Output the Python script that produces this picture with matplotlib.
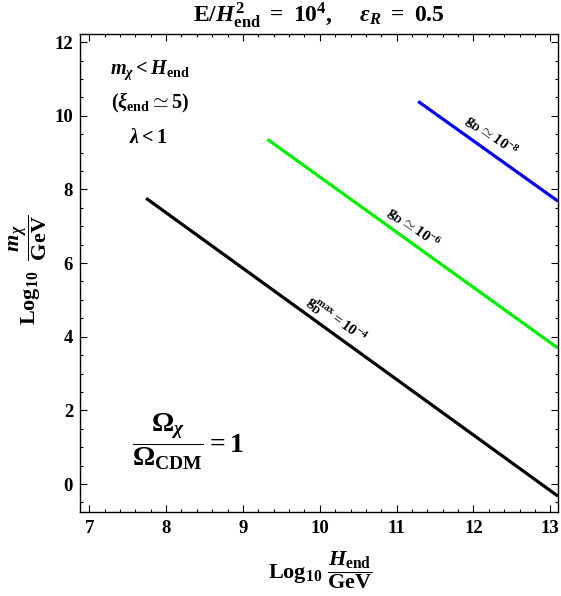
import matplotlib
matplotlib.use("Agg")
import matplotlib.pyplot as plt
from matplotlib.ticker import MultipleLocator

plt.rcParams['font.family'] = ['Liberation Serif', 'DejaVu Serif']
plt.rcParams['font.weight'] = 'bold'
plt.rcParams['mathtext.fontset'] = 'custom'
plt.rcParams['mathtext.rm'] = 'Liberation Serif:bold'
plt.rcParams['mathtext.it'] = 'Liberation Serif:bold:italic'
plt.rcParams['mathtext.bf'] = 'Liberation Serif:bold'
plt.rcParams['mathtext.sf'] = 'Liberation Serif:bold'

# data: line endpoints (log10 H_end/GeV, log10 m_chi/GeV)
black_x = [7.74, 13.1]
black_y = [7.76, -0.33]
green_x = [9.32, 13.1]
green_y = [9.36, 3.69]
blue_x = [11.28, 13.1]
blue_y = [10.39, 7.68]

xticks = [7, 8, 9, 10, 11, 12, 13]
yticks = [0, 2, 4, 6, 8, 10, 12]

fig = plt.figure(figsize=(5.61, 5.96), dpi=100)
ax = fig.add_axes([80/561, 1-512/596, 478/561, 478/596])

ax.plot(black_x, black_y, color='black', lw=2.3, solid_capstyle='butt')
ax.plot(green_x, green_y, color='#00ee00', lw=2.3, solid_capstyle='butt')
ax.plot(blue_x, blue_y, color='#0000ee', lw=2.3, solid_capstyle='butt')

ax.set_xlim(6.88, 13.1)
ax.set_ylim(-0.76, 12.22)
ax.set_xticks(xticks)
ax.set_yticks(yticks)
ax.xaxis.set_minor_locator(MultipleLocator(0.2))
ax.yaxis.set_minor_locator(MultipleLocator(0.5))
ax.tick_params(which='both', direction='in', top=True, right=True, labelsize=13.5, width=0.8)
ax.tick_params(which='major', length=5)
ax.tick_params(which='minor', length=2.5)
ax.tick_params(axis='x', which='major', pad=6)
ax.tick_params(axis='y', which='major', pad=5)
for lab in ax.get_xticklabels() + ax.get_yticklabels():
    lab.set_fontweight('bold')
for s in ax.spines.values():
    s.set_linewidth(1.0)

ang = -35.6
ax.text(12.23, 9.45, r'$\mathrm{g}_{\rm D}\simeq 10^{-8}$', rotation=ang, ha='center', va='center',
        fontsize=11, rotation_mode='anchor')
ax.text(11.22, 6.95, r'$\mathrm{g}_{\rm D}\simeq 10^{-6}$', rotation=ang, ha='center', va='center',
        fontsize=11, rotation_mode='anchor')
ax.text(10.21, 4.45, r'$\mathrm{g}_{\rm D}^{\rm max}=10^{-4}$', rotation=ang, ha='center', va='center',
        fontsize=11, rotation_mode='anchor')

ax.text(7.79, 11.23, r'$m_\chi < H_{\rm end}$', ha='center', va='center', fontsize=14.5)
ax.text(7.79, 10.34, r'$(\xi_{\rm end}\simeq 5)$', ha='center', va='center', fontsize=14.5)
ax.text(7.77, 9.39, r'$\lambda < 1$', ha='center', va='center', fontsize=14.5)
ax.text(7.56, 1.14, r'$\dfrac{\Omega_\chi}{\Omega_{\rm CDM}} = 1$', ha='left', va='center', fontsize=20)

fig.text(319/561, 1-15/596, r'$\mathrm{E}/H_{\rm end}^2\ =\ 10^4,\quad\ \epsilon_R\ =\ 0.5$',
         ha='center', va='center', fontsize=17)
fig.text(320/561, 1-570/596, r'$\mathrm{Log}_{10}\ \dfrac{H_{\rm end}}{\rm GeV}$',
         ha='center', va='center', fontsize=16)
fig.text(28/561, 1-270/596, r'$\mathrm{Log}_{10}\ \ \dfrac{m_\chi}{\rm GeV}$',
         ha='center', va='center', fontsize=16, rotation=90)

fig.savefig('out.png', dpi=100)
